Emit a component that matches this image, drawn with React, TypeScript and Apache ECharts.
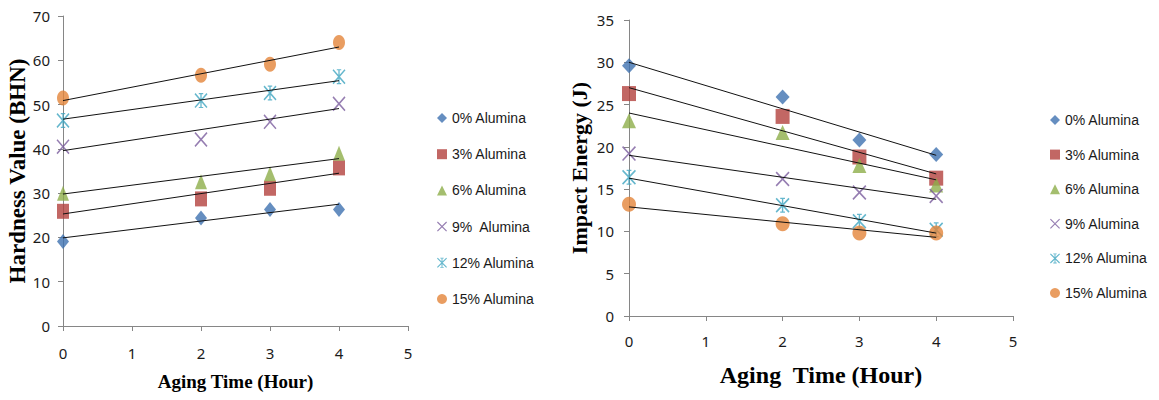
import React, { useEffect, useRef } from "react";
import * as echarts from "echarts";

const hours = [0, 2, 3, 4];
const seriesNamesLeft = ["0% Alumina", "3% Alumina", "6% Alumina", "9%  Alumina", "12% Alumina", "15% Alumina"];
const seriesNamesRight = ["0% Alumina", "3% Alumina", "6% Alumina", "9% Alumina", "12% Alumina", "15% Alumina"];

const hard0 = [19.1, 24.4, 26.3, 26.3];
const hard3 = [25.9, 28.7, 31.1, 35.7];
const hard6 = [30.0, 32.6, 34.4, 39.0];
const hard9 = [40.5, 42.1, 46.1, 50.2];
const hard12 = [46.4, 50.9, 52.6, 56.3];
const hard15 = [51.5, 56.6, 59.1, 64.0];
const hardTrendStart = [19.9, 25.3, 29.8, 39.6, 46.7, 50.9];
const hardTrendEnd = [27.5, 34.5, 37.8, 49.1, 55.4, 63.0];

const imp0 = [29.6, 25.9, 20.8, 19.1];
const imp3 = [26.3, 23.6, 18.8, 16.3];
const imp6 = [23.1, 21.7, 17.8, 15.5];
const imp9 = [19.2, 16.2, 14.6, 14.2];
const imp12 = [16.4, 13.1, 11.2, 10.2];
const imp15 = [13.2, 10.9, 9.8, 9.8];
const impTrendStart = [30.0, 27.0, 24.0, 19.0, 16.3, 12.9];
const impTrendEnd = [19.0, 16.8, 16.1, 13.8, 9.8, 9.3];

const trendHours = [0, 4];

const colors = ["#3F72B0", "#B3413D", "#8DAE4A", "#7A5C9E", "#3FA5C0", "#E3843A"];

const X_PATH = "path://M0,8 L8,0 L100,92 L92,100 Z M92,0 L100,8 L8,100 L0,92 Z";
const STAR_PATH =
  "path://M0,8 L8,0 L100,92 L92,100 Z M92,0 L100,8 L8,100 L0,92 Z M45,0 L55,0 L55,100 L45,100 Z M33,0 L67,0 L67,8 L33,8 Z M33,92 L67,92 L67,100 L33,100 Z";
const symbols = ["diamond", "rect", "triangle", X_PATH, STAR_PATH, "circle"];

const tickFont = { fontFamily: "Noto Sans", fontSize: 15, color: "#1a1a1a" };
const legendFont = { fontFamily: "Liberation Sans", fontSize: 14, color: "#1a1a1a" };

export default function App() {
  const ref = useRef<HTMLDivElement>(null);
  useEffect(() => {
    if (!ref.current) return;
    const chart = echarts.init(ref.current, undefined, { renderer: "svg" });

    const leftData = [hard0, hard3, hard6, hard9, hard12, hard15];
    const rightData = [imp0, imp3, imp6, imp9, imp12, imp15];

    const axisLineStyle = { lineStyle: { color: "#868686", width: 1 } };

    const xAxisBase = (gridIndex: number, nameSize: number, nameGap: number, labelMargin: number, name: string) => ({
      type: "value",
      gridIndex,
      min: 0,
      max: 5,
      interval: 1,
      name,
      nameLocation: "middle",
      nameGap,
      nameTextStyle: { fontFamily: "Liberation Serif", fontWeight: "bold", fontSize: nameSize, color: "#000" },
      axisLine: { show: true, onZero: false, ...axisLineStyle },
      axisTick: { show: true, inside: false, length: 5, ...axisLineStyle },
      axisLabel: { ...tickFont, margin: labelMargin },
      splitLine: { show: false },
    });

    const series: any[] = [];
    leftData.forEach((vals, i) => {
      series.push({
        type: "scatter",
        name: seriesNamesLeft[i],
        xAxisIndex: 0,
        yAxisIndex: 0,
        symbol: symbols[i],
        symbolSize: i === 3 || i === 4 ? [13, 15] : [12, 15],
        itemStyle: { color: colors[i] },
        data: hours.map((h, k) => [h, vals[k]]),
        z: 2,
      });
    });
    leftData.forEach((_, i) => {
      series.push({
        type: "line",
        name: "hardness trend " + i,
        xAxisIndex: 0,
        yAxisIndex: 0,
        showSymbol: false,
        symbol: "none",
        silent: true,
        lineStyle: { color: "#111", width: 1 },
        data: [
          [trendHours[0], hardTrendStart[i]],
          [trendHours[1], hardTrendEnd[i]],
        ],
        z: 3,
      });
    });
    rightData.forEach((vals, i) => {
      series.push({
        type: "scatter",
        name: seriesNamesRight[i],
        xAxisIndex: 1,
        yAxisIndex: 1,
        symbol: symbols[i],
        symbolSize: [14, 15],
        itemStyle: { color: colors[i] },
        data: hours.map((h, k) => [h, vals[k]]),
        z: 2,
      });
    });
    rightData.forEach((_, i) => {
      series.push({
        type: "line",
        name: "impact trend " + i,
        xAxisIndex: 1,
        yAxisIndex: 1,
        showSymbol: false,
        symbol: "none",
        silent: true,
        lineStyle: { color: "#111", width: 1 },
        data: [
          [trendHours[0], impTrendStart[i]],
          [trendHours[1], impTrendEnd[i]],
        ],
        z: 3,
      });
    });

    chart.setOption({
      animation: false,
      backgroundColor: "#fff",
      grid: [
        { left: 63, top: 16, width: 345, height: 310, containLabel: false },
        { left: 629, top: 20, width: 384, height: 296, containLabel: false },
      ],
      xAxis: [
        xAxisBase(0, 19, 46, 19, "Aging Time (Hour)"),
        xAxisBase(1, 24, 47, 17, "Aging  Time (Hour)"),
      ],
      yAxis: [
        {
          type: "value",
          gridIndex: 0,
          min: 0,
          max: 70,
          interval: 10,
          name: "Hardness Value (BHN)",
          nameLocation: "middle",
          nameRotate: 90,
          nameGap: 33,
          nameTextStyle: { fontFamily: "Liberation Serif", fontWeight: "bold", fontSize: 23, color: "#000" },
          axisLine: { show: true, ...axisLineStyle },
          axisTick: { show: true, length: 5, ...axisLineStyle },
          axisLabel: { ...tickFont, margin: 13 },
          splitLine: { show: false },
        },
        {
          type: "value",
          gridIndex: 1,
          min: 0,
          max: 35,
          interval: 5,
          name: "Impact Energy (J)",
          nameLocation: "middle",
          nameRotate: 90,
          nameGap: 39,
          nameTextStyle: { fontFamily: "Liberation Serif", fontWeight: "bold", fontSize: 22, color: "#000" },
          axisLine: { show: true, ...axisLineStyle },
          axisTick: { show: true, length: 5, ...axisLineStyle },
          axisLabel: { ...tickFont, margin: 15 },
          splitLine: { show: false },
        },
      ],
      legend: [
        {
          orient: "vertical",
          left: 432,
          top: 106,
          itemWidth: 10,
          itemHeight: 10,
          itemGap: 22.2,
          data: seriesNamesLeft,
          textStyle: legendFont,
          selectedMode: false,
        },
        {
          orient: "vertical",
          left: 1045,
          top: 108,
          itemWidth: 10,
          itemHeight: 10,
          itemGap: 20.6,
          data: seriesNamesRight,
          textStyle: legendFont,
          selectedMode: false,
        },
      ],
      series,
    });
    return () => chart.dispose();
  }, []);
  return <div ref={ref} style={{ position: "fixed", left: 0, top: 0, width: 1159, height: 400 }} />;
}
